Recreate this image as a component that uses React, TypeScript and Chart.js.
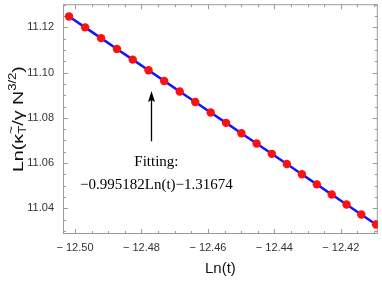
import React, { useEffect, useRef } from "react";
import { Chart, registerables } from "chart.js";

Chart.register(...registerables);

// ---- data ----
const lnT = [
  -12.50179, -12.49696, -12.49216, -12.48738, -12.48262, -12.47788, -12.47317,
  -12.46848, -12.46381, -12.45916, -12.45453, -12.44993, -12.44535, -12.44078,
  -12.43624, -12.43172, -12.42722, -12.42274, -12.41828, -12.41384, -12.40941,
];
const lnKappa = [
  11.12482, 11.12001, 11.11524, 11.11048, 11.10574, 11.10103, 11.09634,
  11.09167, 11.08702, 11.0824, 11.07779, 11.07321, 11.06865, 11.0641,
  11.05958, 11.05509, 11.05061, 11.04615, 11.04171, 11.03729, 11.03288,
];
const xTicks = [-12.5, -12.48, -12.46, -12.44, -12.42];
const yTicks = [11.04, 11.06, 11.08, 11.1, 11.12];
const xRange = [-12.50361, -12.40887];
const yRange = [11.02866, 11.13025];
const minorStep = 0.005;
const xTitle = "Ln(t)";
const fitLines = ["Fitting:", "\u22120.995182Ln(t)\u22121.31674"];
const arrowX = -12.477;
const arrowY = [11.06964, 11.09188];
const fitTextX = -12.4755;
const fitTextY = [11.06049, 11.05046];

const SANS = "'Liberation Sans', Arial, sans-serif";
const SERIF = "'Liberation Serif', 'Times New Roman', serif";

const framePlugin = {
  id: "frameTicks",
  beforeDatasetsDraw(chart: any) {
    const { ctx, chartArea: a, scales } = chart;
    const xs = scales.x;
    const ys = scales.y;
    ctx.save();
    ctx.strokeStyle = "#9c9c9c";
    ctx.lineWidth = 1;
    ctx.strokeRect(a.left + 0.5, a.top + 0.5, a.right - a.left - 1, a.bottom - a.top - 1);
    const seg = (x1: number, y1: number, x2: number, y2: number) => {
      ctx.beginPath();
      ctx.moveTo(x1, y1);
      ctx.lineTo(x2, y2);
      ctx.stroke();
    };
    for (let i = -12; i < 40; i++) {
      const v = xTicks[0] + i * minorStep;
      if (v < xRange[0] || v > xRange[1]) continue;
      const len = ((i % 4) + 4) % 4 === 0 ? 5 : 3;
      const px = Math.round(xs.getPixelForValue(v)) + 0.5;
      seg(px, a.bottom, px, a.bottom - len);
      seg(px, a.top, px, a.top + len);
    }
    for (let i = -12; i < 40; i++) {
      const v = yTicks[0] + i * minorStep;
      if (v < yRange[0] || v > yRange[1]) continue;
      const len = ((i % 4) + 4) % 4 === 0 ? 5 : 3;
      const py = Math.round(ys.getPixelForValue(v)) + 0.5;
      seg(a.left, py, a.left + len, py);
      seg(a.right, py, a.right - len, py);
    }
    ctx.restore();
  },
  afterDraw(chart: any) {
    const { ctx, chartArea: a, scales } = chart;
    const xs = scales.x;
    const ys = scales.y;
    ctx.save();
    // x title
    ctx.fillStyle = "#111";
    ctx.font = `15px ${SANS}`;
    ctx.textAlign = "center";
    ctx.textBaseline = "middle";
    ctx.fillText(xTitle, (a.left + a.right) / 2, 269);

    // y title with sub/superscripts
    const parts: { t: string; size: number; dy: number; overlay?: boolean }[] = [
      { t: "Ln(\u03BA", size: 15, dy: 0 },
      { t: "T", size: 10, dy: 3 },
      { t: "~", size: 10, dy: -8, overlay: true },
      { t: "/\u03B3 N", size: 15, dy: 0 },
      { t: "3/2", size: 10, dy: -7 },
      { t: ")", size: 15, dy: 0 },
    ];
    let total = 0;
    const widths: number[] = [];
    parts.forEach((p) => {
      ctx.font = `${p.size}px ${SANS}`;
      const w = ctx.measureText(p.t).width;
      widths.push(w);
      if (!p.overlay) total += w;
    });
    const target = 106;
    const stretch = target / total;
    ctx.translate(22.5, (a.top + a.bottom) / 2);
    ctx.rotate(-Math.PI / 2);
    ctx.scale(stretch, 1);
    ctx.textAlign = "left";
    ctx.textBaseline = "alphabetic";
    let u = -total / 2;
    let lastStart = u;
    parts.forEach((p, i) => {
      ctx.font = `${p.size}px ${SANS}`;
      if (p.overlay) {
        ctx.fillText(p.t, lastStart, p.dy);
      } else {
        ctx.fillText(p.t, u, p.dy);
        lastStart = u;
        u += widths[i];
      }
    });
    ctx.restore();

    // annotation arrow
    ctx.save();
    const ax = Math.round(xs.getPixelForValue(arrowX)) + 0.5;
    const ay0 = ys.getPixelForValue(arrowY[0]);
    const ay1 = ys.getPixelForValue(arrowY[1]);
    ctx.strokeStyle = "#000";
    ctx.fillStyle = "#000";
    ctx.lineWidth = 1.3;
    ctx.beginPath();
    ctx.moveTo(ax, ay0);
    ctx.lineTo(ax, ay1 + 8);
    ctx.stroke();
    ctx.beginPath();
    ctx.moveTo(ax, ay1);
    ctx.lineTo(ax - 3.5, ay1 + 11);
    ctx.lineTo(ax, ay1 + 9);
    ctx.lineTo(ax + 3.5, ay1 + 11);
    ctx.closePath();
    ctx.fill();

    ctx.font = `15px ${SERIF}`;
    ctx.textAlign = "center";
    ctx.textBaseline = "middle";
    const tx = xs.getPixelForValue(fitTextX);
    fitLines.forEach((s, i) => {
      ctx.fillText(s, tx, ys.getPixelForValue(fitTextY[i]));
    });
    ctx.restore();
  },
};

const zeroPad = (s: any) => {
  s.paddingTop = 0;
  s.paddingBottom = 0;
  s.paddingLeft = 0;
  s.paddingRight = 0;
};

export default function App() {
  const ref = useRef<HTMLCanvasElement>(null);
  useEffect(() => {
    if (!ref.current) return;
    const chart = new Chart(ref.current, {
      type: "line",
      data: {
        datasets: [
          {
            data: lnT.map((x, i) => ({ x, y: lnKappa[i] })),
            borderColor: "#1414ff",
            borderWidth: 2.5,
            pointBackgroundColor: "#ff1010",
            pointBorderColor: "#ff1010",
            pointBorderWidth: 0,
            pointRadius: 4.2,
            tension: 0,
          },
        ],
      },
      options: {
        animation: false,
        responsive: false,
        devicePixelRatio: 1,
        layout: { padding: { top: 1, right: 4, left: 0, bottom: 0 } },
        plugins: { legend: { display: false }, tooltip: { enabled: false } },
        scales: {
          x: {
            type: "linear",
            min: xRange[0],
            max: xRange[1],
            grid: { display: false, drawTicks: false },
            border: { display: false },
            afterBuildTicks: (s: any) => {
              s.ticks = xTicks.map((v) => ({ value: v }));
            },
            afterFit: (s: any) => {
              s.height = 50;
              zeroPad(s);
            },
            ticks: {
              padding: 7,
              color: "#333",
              font: { family: SANS, size: 11 },
              maxRotation: 0,
              callback: (v: any) => "\u2212 " + Math.abs(Number(v)).toFixed(2),
            },
          },
          y: {
            type: "linear",
            min: yRange[0],
            max: yRange[1],
            grid: { display: false, drawTicks: false },
            border: { display: false },
            afterBuildTicks: (s: any) => {
              s.ticks = yTicks.map((v) => ({ value: v }));
            },
            afterFit: (s: any) => {
              s.width = 63;
              zeroPad(s);
            },
            ticks: {
              padding: 9,
              color: "#333",
              font: { family: SANS, size: 11 },
              callback: (v: any) => Number(v).toFixed(2),
            },
          },
        },
      },
      plugins: [framePlugin],
    });
    return () => chart.destroy();
  }, []);
  return (
    <div style={{ position: "fixed", left: 0, top: 0, width: 382, height: 284, background: "#fff" }}>
      <canvas ref={ref} width={382} height={284} style={{ width: 382, height: 284 }} />
    </div>
  );
}
